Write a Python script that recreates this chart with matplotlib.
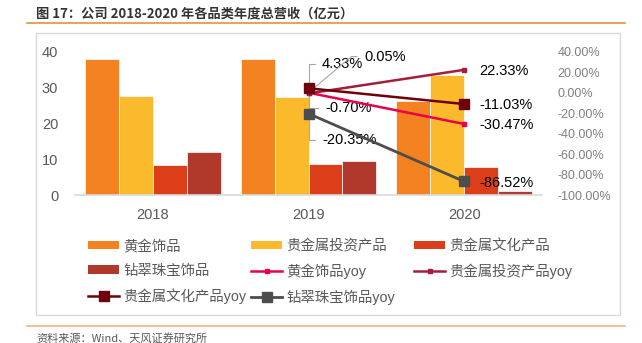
import matplotlib
matplotlib.use('Agg')
import matplotlib.pyplot as plt
from matplotlib.lines import Line2D
from matplotlib.patches import Rectangle, Patch
import numpy as np

plt.rcParams['font.family'] = ['Liberation Sans', 'Noto Sans CJK SC', 'DejaVu Sans']

# ---------------- data ----------------
years = ['2018', '2019', '2020']
bar_names = ['黄金饰品', '贵金属投资产品', '贵金属文化产品', '钻翠珠宝饰品']
gold = [37.9, 37.9, 26.4]
invest = [27.6, 27.4, 33.5]
culture = [8.45, 8.8, 7.85]
jewel = [12.0, 9.55, 1.3]

yoy_years = ['2019', '2020']
line_names = ['黄金饰品yoy', '贵金属投资产品yoy', '贵金属文化产品yoy', '钻翠珠宝饰品yoy']
gold_yoy = [0.05, -30.47]
invest_yoy = [-0.70, 22.33]
culture_yoy = [4.33, -11.03]
jewel_yoy = [-20.35, -86.52]

left_ticks = [0, 10, 20, 30, 40]
right_ticks = [40, 20, 0, -20, -40, -60, -80, -100]

title = '图 17：公司 2018-2020 年各品类年度总营收（亿元）'
source = '资料来源：Wind、天风证券研究所'

# ---------------- style ----------------
bar_colors = ['#F58220', '#FBBA2C', '#DC3E1A', '#B0392B']
line_colors = ['#E8004C', '#A31D3E', '#6E000C', '#4D4D4D']
line_markers = ['s', 's', 's', 's']
marker_sizes = [3.2, 3.2, 6.5, 6.5]
line_widths = [1.8, 1.8, 1.8, 2.0]

W, H = 642, 343
fig = plt.figure(figsize=(W / 100, H / 100), dpi=100)

def fx(px):
    return px / W

def fy(py):
    return 1 - py / H

ax_left, ax_right, ax_top, ax_bot = 75, 542, 51.7, 195.3
ax = fig.add_axes([fx(ax_left), fy(ax_bot), fx(ax_right - ax_left), (ax_bot - ax_top) / H])
ax2 = ax.twinx()

x = np.arange(len(years))
bw = 0.218
series = [gold, invest, culture, jewel]
bar_handles = []
for i, (vals, c, name) in enumerate(zip(series, bar_colors, bar_names)):
    ax.bar(x + (i - 1.5) * bw, vals, bw, color=c, edgecolor='white', linewidth=0.5, label=name, zorder=2)
    bar_handles.append(Patch(facecolor=c, edgecolor='none', label=name))

ax.set_xlim(-0.5, len(years) - 0.5)
ax.set_ylim(0, 40)
ax.set_yticks(left_ticks)
ax.set_xticks(x)
ax.set_xticklabels(years)
ax.tick_params(axis='both', length=0, labelsize=10.5, labelcolor='#595959')
ax.tick_params(axis='x', pad=9)
ax.tick_params(axis='y', pad=12)
for s in ['top', 'right', 'left']:
    ax.spines[s].set_visible(False)
ax.spines['bottom'].set_color('#D9D9D9')
ax.spines['bottom'].set_linewidth(1.2)

# lines
xi = [years.index(y) for y in yoy_years]
line_series = [gold_yoy, invest_yoy, culture_yoy, jewel_yoy]
line_handles = []
for vals, c, m, ms, lw, name in zip(line_series, line_colors, line_markers, marker_sizes, line_widths, line_names):
    l, = ax2.plot(xi, vals, color=c, lw=lw, marker=m, ms=ms, mec=c, mfc=c, label=name, zorder=3)
    line_handles.append(l)

ax2.set_ylim(-100, 40)
ax2.set_yticks(right_ticks)
ax2.set_yticklabels([f'{v:.2f}%' for v in right_ticks])
ax2.tick_params(axis='y', length=0, labelsize=9, labelcolor='#808080', pad=11)
for s in ['top', 'right', 'left', 'bottom']:
    ax2.spines[s].set_visible(False)

# data labels at 2020
for vals in line_series:
    ax2.annotate(f'{vals[1]:.2f}%', xy=(xi[1], vals[1]), xytext=(11, -1),
                 textcoords='offset points', ha='left', va='center', fontsize=10.5, color='black')

# data labels at 2019 with leader lines
lead = dict(arrowstyle='-', color='#A6A6A6', lw=0.8, shrinkA=3, shrinkB=0)
label_specs = [
    (culture_yoy[0], (9.7, 17.2), 'angle,angleA=0,angleB=90,rad=0'),
    (gold_yoy[0], (40, 26), 'angle,angleA=0,angleB=40,rad=0'),
    (invest_yoy[0], (11.9, -10.8), 'angle,angleA=0,angleB=90,rad=0'),
    (jewel_yoy[0], (9.7, -19.3), 'angle,angleA=0,angleB=90,rad=0'),
]
for v, off, cs in label_specs:
    ax2.annotate(f'{v:.2f}%', xy=(xi[0], v), xytext=off, textcoords='offset points',
                 ha='left', va='center', fontsize=10.5, color='black',
                 arrowprops=dict(lead, connectionstyle=cs, relpos=(0, 0.5)), zorder=1)

# legend: three columns placed at fixed positions
order = bar_handles + line_handles
cols = [[order[0], order[3], order[6]], [order[1], order[4], order[7]], [order[2], order[5]]]
col_x = [88, 251, 414]
for hs, cx in zip(cols, col_x):
    fig.legend(handles=hs, loc='upper left', bbox_to_anchor=(fx(cx), fy(239)),
               frameon=False, fontsize=10.4, borderpad=0, borderaxespad=0,
               handlelength=2.15, handletextpad=0.3, handleheight=0.5,
               labelspacing=0.73, labelcolor='#595959')

# frame, rules, title, source
fig.add_artist(Rectangle((fx(36), fy(315)), fx(620 - 36), (315 - 33) / H, transform=fig.transFigure,
                         fill=False, ec='#D9D9D9', lw=1.0))
fig.add_artist(Line2D([fx(27), fx(625)], [fy(23.3), fy(23.3)], transform=fig.transFigure,
                      color='#E8913A', lw=1.2))
fig.add_artist(Line2D([fx(27), fx(625)], [fy(326), fy(326)], transform=fig.transFigure,
                      color='#F7B27A', lw=1.2))
fig.text(fx(36), fy(13), title, ha='left', va='center', fontsize=9.5, color='#333333',
         fontweight='bold', family=['Noto Sans CJK SC', 'DejaVu Sans'])
fig.text(fx(36), fy(338), source, ha='left', va='center', fontsize=8, color='#595959',
         family=['Noto Sans CJK SC', 'DejaVu Sans'])

fig.savefig('out.png', dpi=100)
